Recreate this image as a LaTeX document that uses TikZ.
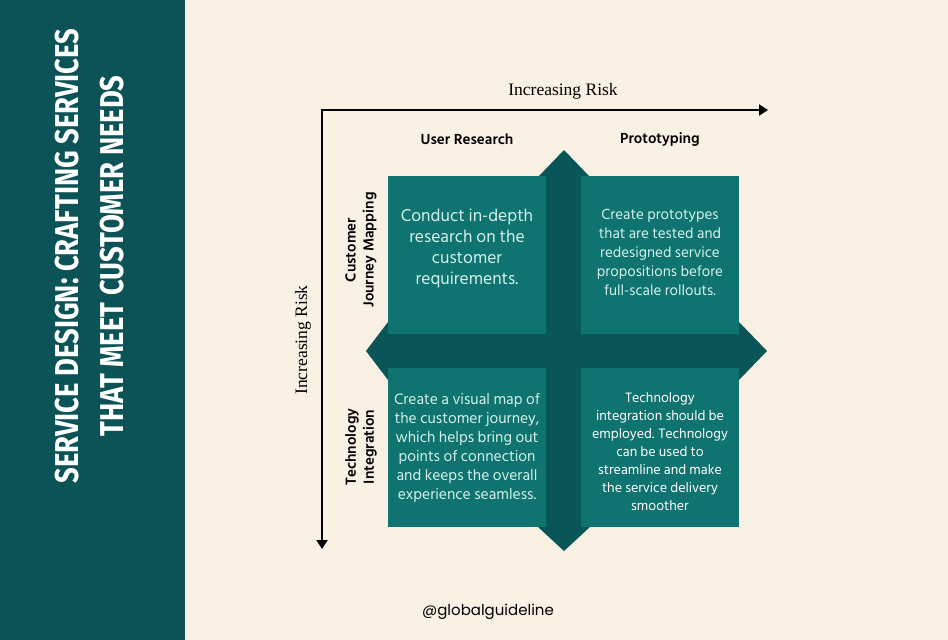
\documentclass[tikz,border=0pt]{standalone}
\usepackage{fontspec}
\usetikzlibrary{positioning}
\usetikzlibrary{arrows.meta}
\setmainfont{Hind Siliguri}
\newfontfamily\titlefont[FakeStretch=0.83]{Fira Sans}
\newfontfamily\axisfont{Liberation Serif}
\newfontfamily\handlefont{Poppins}
\definecolor{cream}{HTML}{FAF1E5}
\definecolor{bandteal}{HTML}{0B5357}
\definecolor{boxteal}{HTML}{0F736F}
\definecolor{crossteal}{HTML}{0A5558}
\definecolor{mint}{HTML}{D3F2EB}

\begin{document}
\begin{tikzpicture}[x=1pt,y=-1pt,
 quad/.style={fill=boxteal,minimum width=158pt,minimum height=158pt,inner sep=0pt},
 quadtext/.style={align=center,text=mint},
 head/.style={font=\bfseries\fontsize{15}{18}\selectfont,align=center},
 axislabel/.style={font=\axisfont\fontsize{17.5}{18}\selectfont},
 axis/.style={line width=2pt,{Triangle[length=9pt,width=11pt]}-{Triangle[length=9pt,width=11pt]}}]
 \fill[cream](0,0) rectangle (948,640);
 \fill[bandteal](0,0) rectangle (185,640);
 \node[rotate=90,text=white,align=center,font=\titlefont\bfseries\fontsize{33}{45}\selectfont] (title) at (90,256) {SERVICE DESIGN: CRAFTING SERVICES\\THAT MEET CUSTOMER NEEDS};
 % axes
 \coordinate (origin) at (322,110);
 \coordinate (xend) at (768,110);
 \coordinate (yend) at (322,549);
 \draw[axis] (xend) -- (origin) -- (yend);
 \node[axislabel] (xrisk) at (563,91) {Increasing Risk};
 \node[axislabel,rotate=90] (yrisk) at (303,340) {Increasing Risk};
 % cross
 \fill[crossteal](546,177)--(538,177)--(564,150)--(590,177)--(581,177)--(581,334)--(739,334)--(739,322)--(767,351)--(739,380)--(739,368)--(581,368)--(581,527)--(590,527)--(564,551)--(538,527)--(546,527)--(546,368)--(388,368)--(388,380)--(366,351)--(388,322)--(388,334)--(546,334)--cycle;
 % quadrants
 \node[quad] (research) at (467,255) {};
 \node[quad] (prototype) at (660,255) {};
 \node[quad,minimum height=159pt] (journey) at (467,447.5) {};
 \node[quad,minimum height=159pt] (tech) at (660,447.5) {};
 \node[quadtext,font=\fontsize{17.5}{21}\selectfont] (researchtxt) at ([yshift=7pt]research.center) {Conduct in-depth\\research on the\\customer\\requirements.};
 \node[quadtext,font=\fontsize{15}{19}\selectfont] (prototypetxt) at ([yshift=3pt]prototype.center) {Create prototypes\\that are tested and\\redesigned service\\propositions before\\full-scale rollouts.};
 \node[quadtext,font=\fontsize{15.5}{19}\selectfont] (journeytxt) at (journey.center) {Create a visual map of\\the customer journey,\\which helps bring out\\points of connection\\and keeps the overall\\experience seamless.};
 \node[quadtext,text=white,font=\fontsize{14}{18}\selectfont] (techtxt) at ([yshift=-4pt]tech.center) {Technology\\integration should be\\employed. Technology\\can be used to\\streamline and make\\the service delivery\\smoother};
 % headings
 \node[head] (userres) at (467,139) {User Research};
 \node[head] (proto) at (660,139) {Prototyping};
 \node[head,rotate=90] (cjm) at (361,250) {Customer\\Journey Mapping};
 \node[head,rotate=90] (techint) at (361,447) {Technology\\Integration};
 \node[font=\handlefont\fontsize{15}{18}\selectfont] (handle) at (488,612) {@globalguideline};
\end{tikzpicture}
\end{document}
